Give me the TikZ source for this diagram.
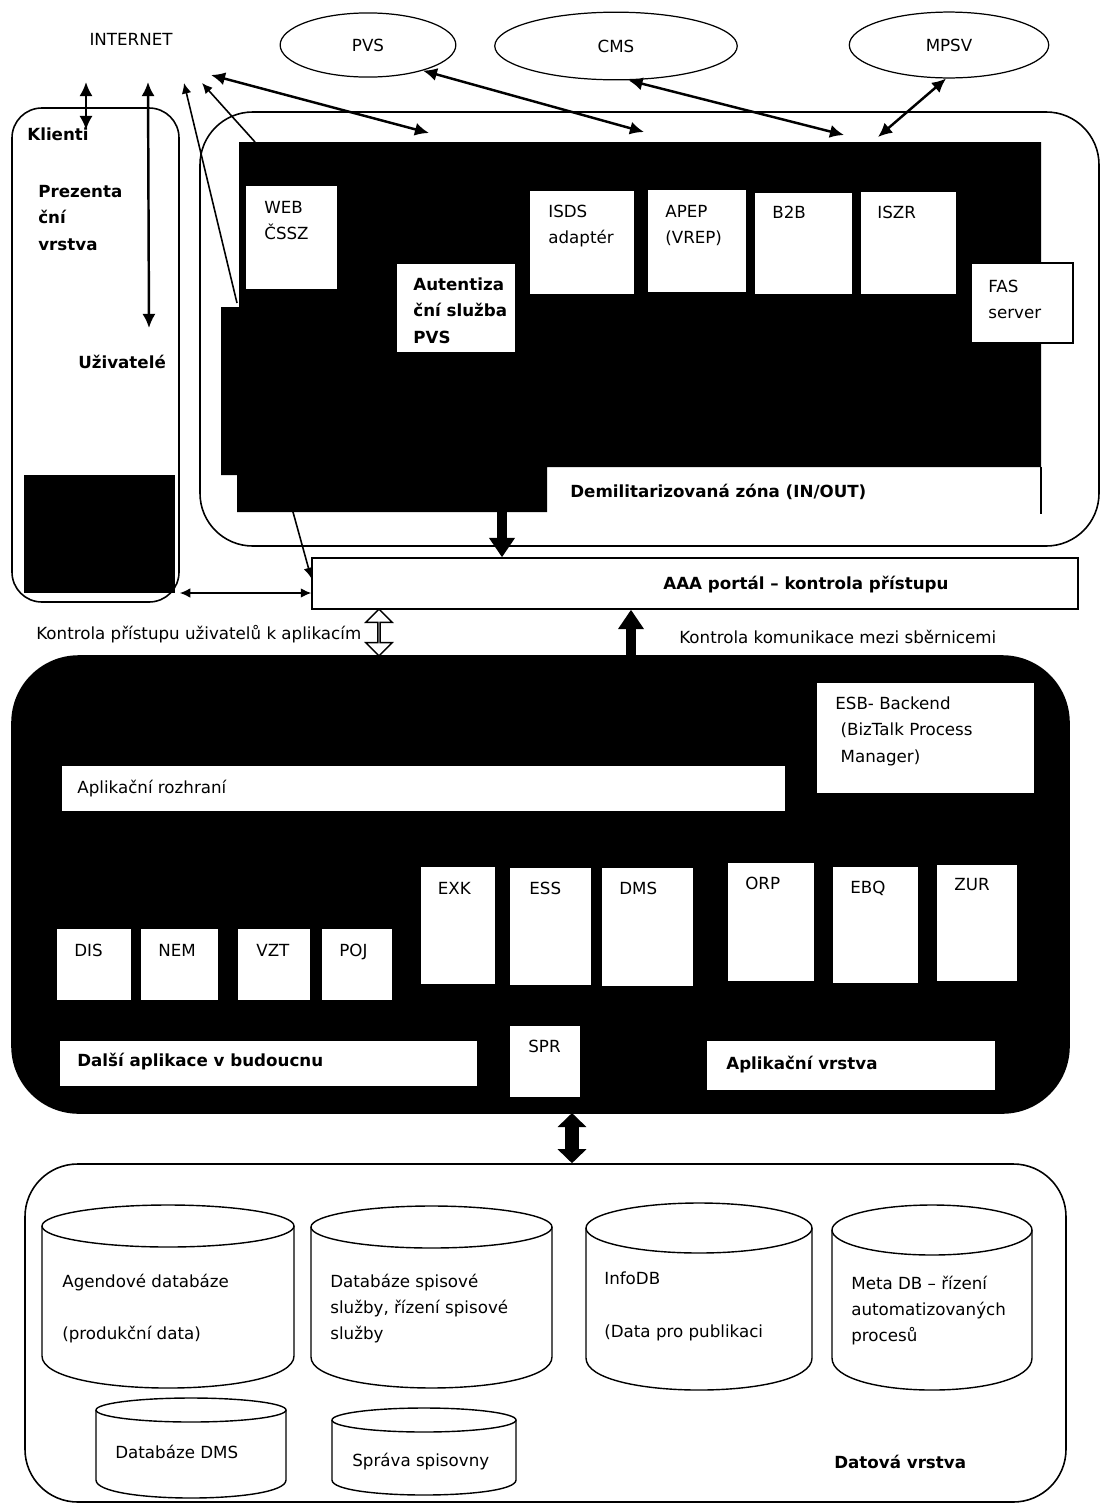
\documentclass[tikz,border=0pt]{standalone}
\usepackage{fontspec}
\setmainfont{DejaVu Sans}
\usetikzlibrary{arrows.meta,fit,shapes.geometric,shapes.arrows}
\tikzset{
  txt/.style  ={font=\fontsize{9.5}{15}\selectfont, inner sep=0pt, align=left},
  txtb/.style ={font=\fontsize{9.5}{15}\selectfont\bfseries, inner sep=0pt, align=left},
  zone/.style ={draw=black, line width=0.9pt, inner sep=0pt},
  wbox/.style ={draw=black, fill=white, line width=0.6pt, inner sep=0pt},
  cloud/.style={ellipse, draw=black, line width=0.7pt, inner sep=0pt, font=\fontsize{9.5}{12}\selectfont},
  ptr/.style  ={draw=black, line width=1.4pt, -{Latex[length=8pt,width=7.5pt]}},
  dptr/.style ={draw=black, line width=1.4pt, {Latex[length=8pt,width=7.5pt]}-{Latex[length=8pt,width=7.5pt]}},
  tptr/.style ={draw=black, line width=0.9pt, -{Latex[length=6pt,width=5.5pt]}},
  tdptr/.style={draw=black, line width=0.9pt, {Latex[length=6pt,width=5.5pt]}-{Latex[length=6pt,width=5.5pt]}},
  fat/.style  ={draw=black, line width=6pt, -{Triangle[length=11pt,width=14pt]}},
  dfat/.style ={draw=black, line width=7.5pt, {Triangle[length=8pt,width=16pt]}-{Triangle[length=8pt,width=16pt]}},
  hollow/.style={double arrow, draw=black, fill=white, line width=0.8pt, inner sep=0pt,
    minimum height=26.5pt, minimum width=15pt, double arrow head extend=4pt, rotate=90},
  db/.style   ={draw=black, line width=0.8pt},
}

\begin{document}
\begin{tikzpicture}[x=0.02cm,y=-0.02cm]
  \useasboundingbox (0,0) rectangle (1102,1505);
  % outside world
  \node[txt,anchor=base] (inet) at (131,45) {INTERNET};
  \node[cloud,minimum width=100pt,minimum height=36.5pt] (pvs) at (368,45) {PVS};
  \node[cloud,minimum width=138pt,minimum height=38.5pt] (cms) at (616,46) {CMS};
  \node[cloud,minimum width=113.5pt,minimum height=37.5pt] (mpsv) at (949,45) {MPSV};

  % klienti
  \node[zone,rounded corners=17pt,fit={(12,108) (179,602)}] (klienti) {};
  \node[fill=black,inner sep=0pt,fit={(24,475) (175,593)}] (klblk) {};
  \node[txtb,anchor=base west] (klt) at (27,140) {Klienti};
  \node[txtb,anchor=north west] (prez) at (38,185) {Prezenta\\ční\\vrstva};
  \node[txtb,anchor=base west] (uziv) at (78,368) {Uživatelé};

  % demilitarizovana zona
  \node[zone,rounded corners=30pt,fit={(200,112) (1099,546)}] (dmz) {};
  \fill[black] (239,142) -- (1041,142) -- (1041,467) -- (547,467) -- (547,512) -- (237,512)
    -- (237,475) -- (221,475) -- (221,307) -- (239,307) -- cycle;
  \draw[line width=0.6pt] (1041,467) -- (1041,514);
  \node[wbox,fit={(245,185) (338,290)}] (web) {};
  \node[txt,anchor=north west] (webt) at (264,200.5) {WEB\\ČSSZ};
  \node[wbox,fit={(396,263) (516,353)}] (auth) {};
  \node[txtb,anchor=north west] (autht) at (413,277.5) {Autentiza\\ční služba\\PVS};
  \node[wbox,fit={(529,190) (635,295)}] (isds) {};
  \node[txt,anchor=north west] (isdst) at (548,204.5) {ISDS\\adaptér};
  \node[wbox,fit={(647,189) (747,293)}] (apep) {};
  \node[txt,anchor=north west] (apept) at (665,204.5) {APEP\\(VREP)};
  \node[wbox,fit={(754,192) (853,295)}] (b2b) {};
  \node[txt,anchor=base west] (b2bt) at (772,218) {B2B};
  \node[wbox,fit={(860,191) (957,295)}] (iszr) {};
  \node[txt,anchor=base west] (iszrt) at (877,218) {ISZR};
  \node[wbox,fit={(971,263) (1073,343)}] (fas) {};
  \node[txt,anchor=north west] (fast) at (988,279.5) {FAS\\server};
  \node[txtb,anchor=base west] (dmzt) at (570,497) {Demilitarizovaná zóna (IN/OUT)};

  % AAA portal
  \node[wbox,line width=0.8pt,fit={(312,558) (1078,609)}] (aaa) {};
  \node[txtb,anchor=base west] (aaat) at (663,589) {AAA portál – kontrola přístupu};
  \node[txt,anchor=base west] (kpt) at (36,639) {Kontrola přístupu uživatelů k aplikacím};
  \node[txt,anchor=base west] (kkt) at (679,643) {Kontrola komunikace mezi sběrnicemi};

  % aplikacni vrstva
  \node[zone,fill=black,rounded corners=38pt,fit={(12,656) (1069,1113)}] (app) {};
  \node[wbox,fit={(816,682) (1035,794)}] (esb) {};
  \node[txt,anchor=north west] (esbt) at (835,696.5) {ESB- Backend\\\hspace{3pt}(BizTalk Process\\\hspace{3pt}Manager)};
  \node[wbox,fit={(61,765) (786,812)}] (rozh) {};
  \node[txt,anchor=base west] (rozht) at (77,793) {Aplikační rozhraní};
  \node[wbox,fit={(420,866) (496,985)}] (exk) {};
  \node[txt,anchor=base west] (exkt) at (437.5,894) {EXK};
  \node[wbox,fit={(509,867) (592,986)}] (ess) {};
  \node[txt,anchor=base west] (esst) at (529,894) {ESS};
  \node[wbox,fit={(601,867) (694,987)}] (dms) {};
  \node[txt,anchor=base west] (dmst) at (619,894) {DMS};
  \node[wbox,fit={(727,862) (815,982)}] (orp) {};
  \node[txt,anchor=base west] (orpt) at (745,889) {ORP};
  \node[wbox,fit={(832,866) (919,984)}] (ebq) {};
  \node[txt,anchor=base west] (ebqt) at (850,893) {EBQ};
  \node[wbox,fit={(936,864) (1018,982)}] (zur) {};
  \node[txt,anchor=base west] (zurt) at (954,890) {ZUR};
  \node[wbox,fit={(56,928) (132,1001)}] (dis) {};
  \node[txt,anchor=base west] (dist) at (74,956) {DIS};
  \node[wbox,fit={(140,928) (219,1001)}] (nem) {};
  \node[txt,anchor=base west] (nemt) at (158,956) {NEM};
  \node[wbox,fit={(237,928) (311,1001)}] (vzt) {};
  \node[txt,anchor=base west] (vztt) at (256,956) {VZT};
  \node[wbox,fit={(321,928) (393,1001)}] (poj) {};
  \node[txt,anchor=base west] (pojt) at (339,956) {POJ};
  \node[wbox,fit={(59,1040) (478,1087)}] (dalsi) {};
  \node[txtb,anchor=base west] (dalsit) at (77,1066) {Další aplikace v budoucnu};
  \node[wbox,fit={(509,1025) (581,1098)}] (spr) {};
  \node[txt,anchor=base west] (sprt) at (528,1052) {SPR};
  \node[wbox,fit={(706,1040) (996,1091)}] (vrst) {};
  \node[txtb,anchor=base west] (vrstt) at (726,1069) {Aplikační vrstva};

  % datova vrstva
  \node[zone,rounded corners=30pt,fit={(25,1164) (1066,1502)}] (data) {};
  \draw[db] (42,1226) -- (42,1356) .. controls (42,1398.7) and (294,1398.7) .. (294,1356) -- (294,1226);
  \draw[db] (168,1226) ellipse [x radius=126, y radius=21];
  \draw[db] (311,1227) -- (311,1357) .. controls (311,1398.3) and (552,1398.3) .. (552,1357) -- (552,1227);
  \draw[db] (431.5,1227) ellipse [x radius=120.5, y radius=21];
  \draw[db] (586,1228) -- (586,1358) .. controls (586,1400.7) and (812,1400.7) .. (812,1358) -- (812,1228);
  \draw[db] (699,1228) ellipse [x radius=113, y radius=25];
  \draw[db] (832,1230) -- (832,1358) .. controls (832,1400.7) and (1032,1400.7) .. (1032,1358) -- (1032,1230);
  \draw[db] (932,1230) ellipse [x radius=100, y radius=25];
  \draw[db] (96,1410) -- (96,1480) .. controls (96,1504) and (286,1504) .. (286,1480) -- (286,1410);
  \draw[db] (191,1410) ellipse [x radius=95, y radius=12];
  \draw[db] (332,1420) -- (332,1480) .. controls (332,1500) and (516,1500) .. (516,1480) -- (516,1420);
  \draw[db] (424,1420) ellipse [x radius=92, y radius=12];
  \node[txt,anchor=north west] (agt) at (62,1273.5) {Agendové databáze\\[15pt](produkční data)};
  \node[txt,anchor=north west] (spt) at (330,1273.5) {Databáze spisové\\služby, řízení spisové\\služby};
  \node[txt,anchor=north west] (inft) at (604,1271.5) {InfoDB\\[15pt](Data pro publikaci};
  \node[txt,anchor=north west] (metat) at (851,1275.5) {Meta DB – řízení\\automatizovaných\\procesů};
  \node[txt,anchor=base west] (dbdt) at (115,1458) {Databáze DMS};
  \node[txt,anchor=base west] (spst) at (352,1466) {Správa spisovny};
  \node[txtb,anchor=base west] (datat) at (834,1468) {Datová vrstva};

  % free ends of the connectors
  \coordinate (i1) at (86,82);
  \coordinate (i2) at (148,82);
  \coordinate (i3) at (184,83);
  \coordinate (i4) at (202,83);
  \coordinate (i5) at (211,75);
  \coordinate (k1) at (86,130);
  \coordinate (k2) at (149,328);
  \coordinate (n3) at (237,303);
  \coordinate (n4) at (255,142);
  \coordinate (n5) at (429,133);
  \coordinate (n6) at (644,132);
  \coordinate (n7) at (844,135);
  \coordinate (n8) at (878,137);
  \coordinate (n9) at (293,512);
  \coordinate (kl) at (0,593);
  \coordinate (dz) at (502,512);
  \coordinate (bus) at (631,656);
  \coordinate (sp) at (572,1113);

  % connectors
  \draw[dptr] (i1) -- (k1);
  \draw[dptr] (i2) -- (k2);
  \draw[tptr] (n3) -- (i3);
  \draw[tptr] (n4) -- (i4);
  \draw[dptr] (i5) -- (n5);
  \draw[dptr] (pvs.-25) -- (n6);
  \draw[dptr] (cms.-70) -- (n7);
  \draw[dptr] (mpsv.-95) -- (n8);
  \draw[tptr] (n9) -- ([yshift=3pt]aaa.west);
  \draw[tdptr] (klienti.east |- kl) -- (aaa.west |- kl);
  \draw[fat] (dz) -- (dz |- aaa.north);
  \draw[fat] (bus) -- (bus |- aaa.south);
  \node[hollow] (acc) at (379,632.5) {};
  \draw[dfat] (sp) -- (sp |- data.north);
\end{tikzpicture}
\end{document}
